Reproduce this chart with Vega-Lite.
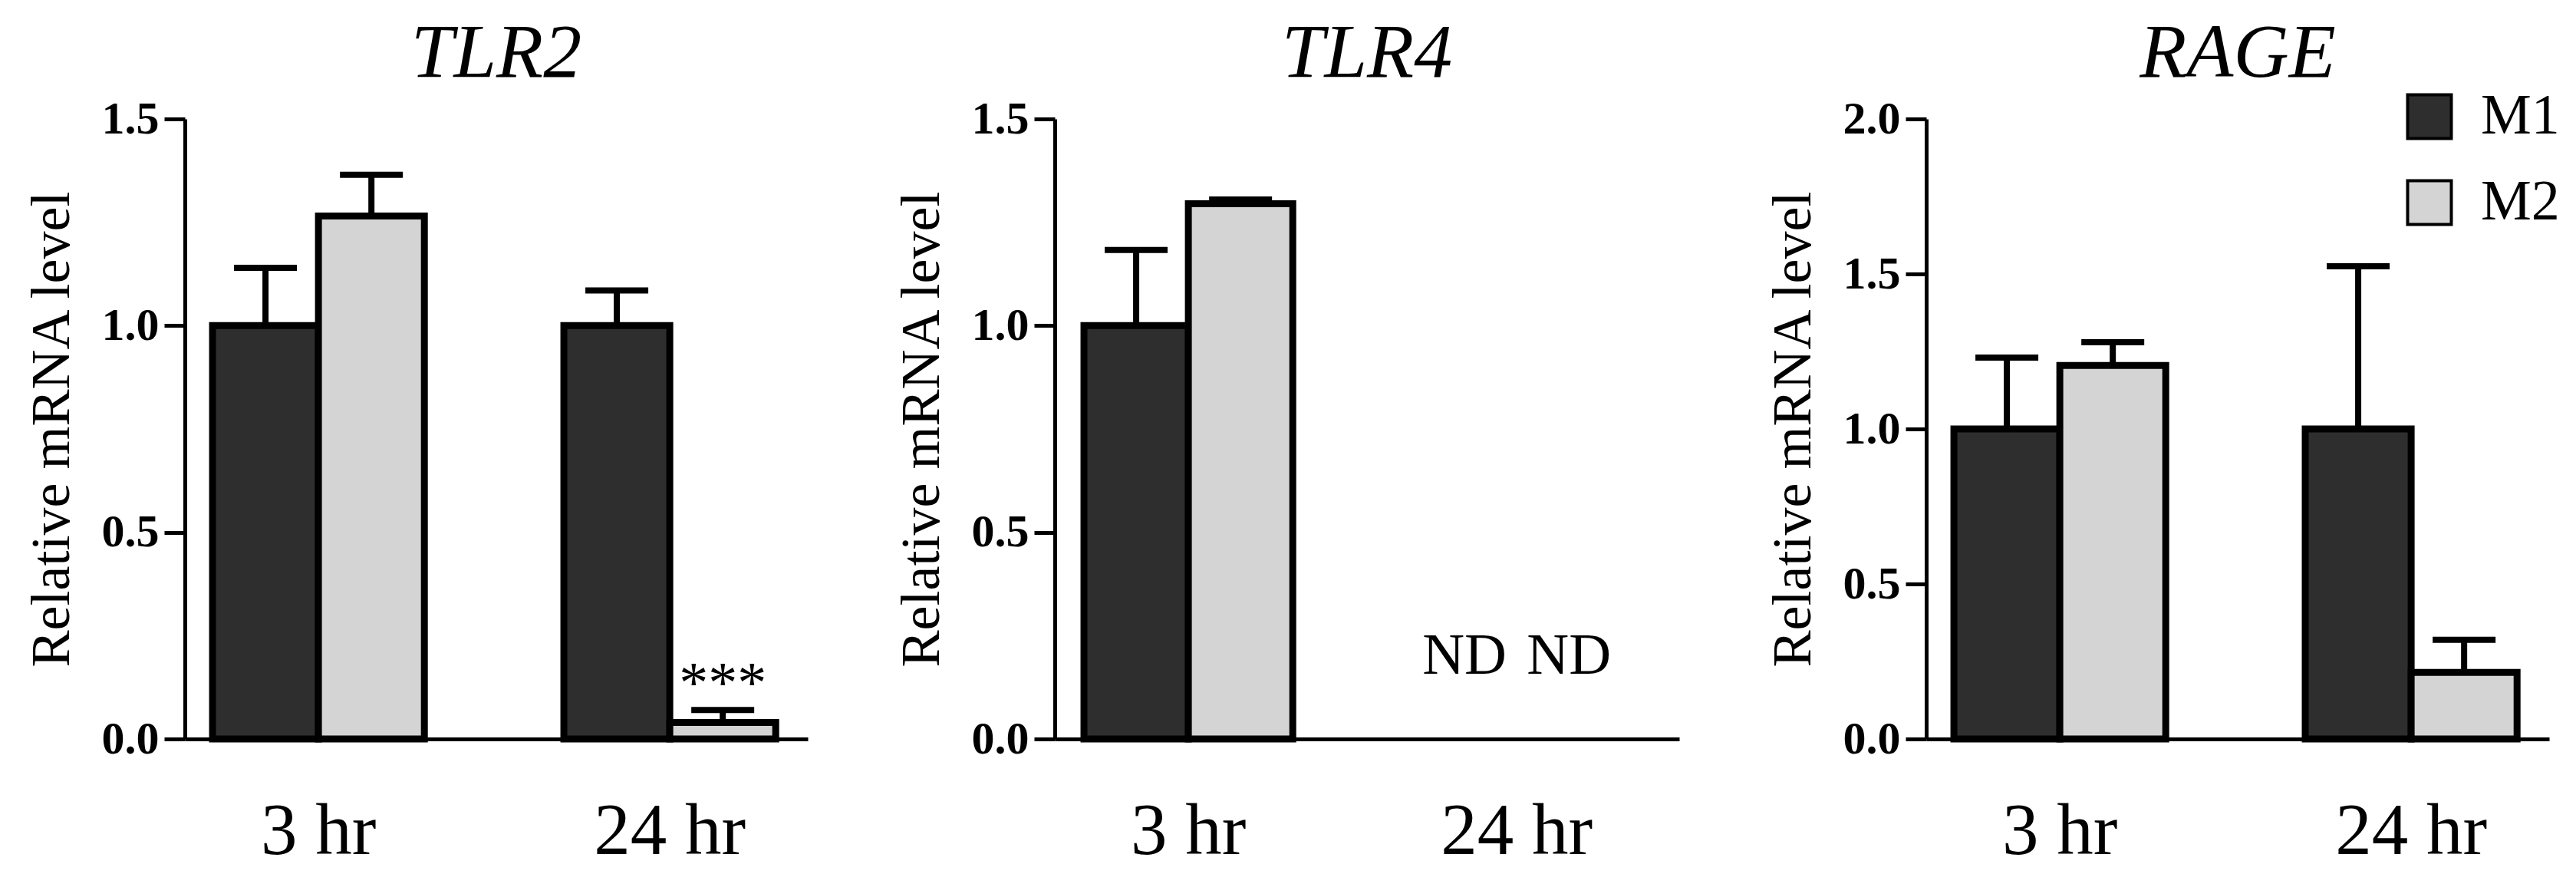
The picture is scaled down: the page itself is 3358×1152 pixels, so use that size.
{
  "$schema": "https://vega.github.io/schema/vega-lite/v6.json",
  "background": "white",
  "padding": {"left": 31, "top": 20, "right": 10, "bottom": 10},
  "spacing": 112,
  "datasets": {
    "expr": [
      {"gene": "TLR2", "time": "3 hr", "group": "M1", "value": 1.0, "err": 1.14, "note": null},
      {"gene": "TLR2", "time": "3 hr", "group": "M2", "value": 1.265, "err": 1.365, "note": null},
      {"gene": "TLR2", "time": "24 hr", "group": "M1", "value": 1.0, "err": 1.085, "note": null},
      {"gene": "TLR2", "time": "24 hr", "group": "M2", "value": 0.04, "err": 0.07, "note": "***"},
      {"gene": "TLR4", "time": "3 hr", "group": "M1", "value": 1.0, "err": 1.183, "note": null},
      {"gene": "TLR4", "time": "3 hr", "group": "M2", "value": 1.295, "err": 1.305, "note": null},
      {"gene": "TLR4", "time": "24 hr", "group": "M1", "value": null, "err": null, "note": "ND"},
      {"gene": "TLR4", "time": "24 hr", "group": "M2", "value": null, "err": null, "note": "ND"},
      {"gene": "RAGE", "time": "3 hr", "group": "M1", "value": 1.0, "err": 1.23, "note": null},
      {"gene": "RAGE", "time": "3 hr", "group": "M2", "value": 1.205, "err": 1.28, "note": null},
      {"gene": "RAGE", "time": "24 hr", "group": "M1", "value": 1.0, "err": 1.525, "note": null},
      {"gene": "RAGE", "time": "24 hr", "group": "M2", "value": 0.215, "err": 0.32, "note": null}
    ]
  },
  "resolve": {"scale": {"x": "independent", "y": "independent", "fill": "independent", "xOffset": "independent"}},
  "hconcat": [
    {
      "width": 812,
      "height": 808,
      "title": {"text": "TLR2", "font": "Liberation Serif", "fontStyle": "italic", "fontWeight": "normal", "fontSize": 100, "color": "black", "baseline": "alphabetic", "offset": -75, "frame": "group", "anchor": "middle"},
      "data": {"name": "expr"},
      "transform": [{"filter": "datum.gene === 'TLR2'"}],
      "encoding": {
        "x": {"field": "time", "type": "nominal", "title": null, "scale": {"domain": ["3 hr", "24 hr"], "paddingInner": 0.397, "paddingOuter": 0.085, "align": 0.463}},
        "xOffset": {"field": "group", "type": "nominal", "scale": {"domain": ["M1", "M2"], "paddingInner": 0, "paddingOuter": 0}}
      },
      "layer": [
        {
          "mark": {"type": "bar", "stroke": "black", "strokeWidth": 9},
          "encoding": {
            "y": {"field": "value", "type": "quantitative", "title": "Relative mRNA level", "scale": {"domain": [0, 1.5], "nice": false}, "axis": {"values": [0, 0.5, 1, 1.5], "format": ".1f"}},
            "fill": {"field": "group", "type": "nominal", "scale": {"domain": ["M1", "M2"], "range": ["#2e2e2e", "#d4d4d4"]}, "legend": null}
          }
        },
        {
          "mark": {"type": "rule", "color": "black", "strokeWidth": 8},
          "encoding": {"y": {"field": "value", "type": "quantitative", "title": "Relative mRNA level"}, "y2": {"field": "err"}}
        },
        {
          "mark": {"type": "tick", "color": "black", "thickness": 8, "size": 82, "opacity": 1},
          "encoding": {"y": {"field": "err", "type": "quantitative", "title": "Relative mRNA level"}}
        },
        {
          "transform": [{"filter": "datum.note != null"}],
          "mark": {"type": "text", "font": "Liberation Serif", "fontSize": 76, "color": "black", "baseline": "alphabetic", "dy": -10},
          "encoding": {"y": {"field": "err", "type": "quantitative", "title": "Relative mRNA level"}, "text": {"field": "note"}}
        }
      ]
    },
    {
      "width": 814,
      "height": 808,
      "title": {"text": "TLR4", "font": "Liberation Serif", "fontStyle": "italic", "fontWeight": "normal", "fontSize": 100, "color": "black", "baseline": "alphabetic", "offset": -75, "frame": "group", "anchor": "middle"},
      "data": {"name": "expr"},
      "transform": [{"filter": "datum.gene === 'TLR4'"}],
      "encoding": {
        "x": {"field": "time", "type": "nominal", "title": null, "scale": {"domain": ["3 hr", "24 hr"], "paddingInner": 0.364, "paddingOuter": 0.133, "align": 0.334}},
        "xOffset": {"field": "group", "type": "nominal", "scale": {"domain": ["M1", "M2"], "paddingInner": 0, "paddingOuter": 0}}
      },
      "layer": [
        {
          "mark": {"type": "bar", "stroke": "black", "strokeWidth": 9},
          "encoding": {
            "y": {"field": "value", "type": "quantitative", "title": "Relative mRNA level", "scale": {"domain": [0, 1.5], "nice": false}, "axis": {"values": [0, 0.5, 1, 1.5], "format": ".1f"}},
            "fill": {"field": "group", "type": "nominal", "scale": {"domain": ["M1", "M2"], "range": ["#2e2e2e", "#d4d4d4"]}, "legend": null}
          }
        },
        {
          "mark": {"type": "rule", "color": "black", "strokeWidth": 8},
          "encoding": {"y": {"field": "value", "type": "quantitative", "title": "Relative mRNA level"}, "y2": {"field": "err"}}
        },
        {
          "mark": {"type": "tick", "color": "black", "thickness": 8, "size": 82, "opacity": 1},
          "encoding": {"y": {"field": "err", "type": "quantitative", "title": "Relative mRNA level"}}
        },
        {
          "transform": [{"filter": "datum.note != null"}],
          "mark": {"type": "text", "font": "Liberation Serif", "fontSize": 76, "color": "black", "baseline": "alphabetic", "dy": -85},
          "encoding": {"y": {"datum": 0, "type": "quantitative"}, "text": {"field": "note"}}
        }
      ]
    },
    {
      "width": 812,
      "height": 808,
      "title": {"text": "RAGE", "font": "Liberation Serif", "fontStyle": "italic", "fontWeight": "normal", "fontSize": 100, "color": "black", "baseline": "alphabetic", "offset": -85, "frame": "group", "anchor": "middle"},
      "data": {"name": "expr"},
      "transform": [{"filter": "datum.gene === 'RAGE'"}],
      "encoding": {
        "x": {"field": "time", "type": "nominal", "title": null, "scale": {"domain": ["3 hr", "24 hr"], "paddingInner": 0.397, "paddingOuter": 0.085, "align": 0.463}},
        "xOffset": {"field": "group", "type": "nominal", "scale": {"domain": ["M1", "M2"], "paddingInner": 0, "paddingOuter": 0}}
      },
      "layer": [
        {
          "mark": {"type": "bar", "stroke": "black", "strokeWidth": 9},
          "encoding": {
            "y": {"field": "value", "type": "quantitative", "title": "Relative mRNA level", "scale": {"domain": [0, 2], "nice": false}, "axis": {"values": [0, 0.5, 1, 1.5, 2], "format": ".1f"}},
            "fill": {"field": "group", "type": "nominal", "scale": {"domain": ["M1", "M2"], "range": ["#2e2e2e", "#d4d4d4"]},
              "legend": {"orient": "none", "legendX": 619, "legendY": -40, "title": null, "symbolType": "square", "symbolSize": 3249, "symbolStrokeColor": "black", "symbolStrokeWidth": 4, "symbolOpacity": 1, "labelFont": "Liberation Serif", "labelFontSize": 74, "labelColor": "black", "labelOffset": 30, "rowPadding": 38, "labelLimit": 0}}
          }
        },
        {
          "mark": {"type": "rule", "color": "black", "strokeWidth": 8},
          "encoding": {"y": {"field": "value", "type": "quantitative", "title": "Relative mRNA level"}, "y2": {"field": "err"}}
        },
        {
          "mark": {"type": "tick", "color": "black", "thickness": 8, "size": 82, "opacity": 1},
          "encoding": {"y": {"field": "err", "type": "quantitative", "title": "Relative mRNA level"}}
        }
      ]
    }
  ],
  "config": {
    "view": {"stroke": null},
    "font": "Liberation Serif",
    "axisY": {"domainColor": "black", "domainWidth": 5, "tickColor": "black", "tickWidth": 5, "tickSize": 27, "labelPadding": 7, "labelFont": "Liberation Serif", "labelFontSize": 60, "labelFontWeight": "bold", "labelColor": "black", "titleFont": "Liberation Serif", "titleFontSize": 72, "titleFontWeight": "normal", "titleColor": "black", "titlePadding": 28, "grid": false},
    "axisX": {"domainColor": "black", "domainWidth": 5, "ticks": false, "tickSize": 0, "labelPadding": 74, "labelFont": "Liberation Serif", "labelFontSize": 95, "labelColor": "black", "labelAngle": 0, "labelLimit": 0, "grid": false}
  }
}
